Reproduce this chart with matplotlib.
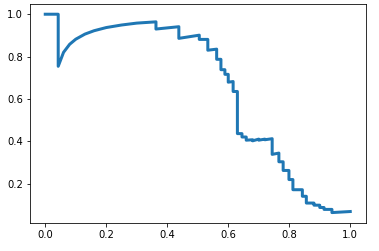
import matplotlib
matplotlib.use("Agg")
import matplotlib.pyplot as plt

# recall / precision vertices
recall = [0.0, 0.0425, 0.0425, 0.06, 0.08, 0.10, 0.13, 0.16, 0.20, 0.25, 0.30, 0.363,
          0.363, 0.438, 0.438, 0.505, 0.505, 0.533, 0.533, 0.562, 0.562, 0.576, 0.576,
          0.589, 0.589, 0.600, 0.600, 0.616, 0.616, 0.630, 0.630, 0.645, 0.645, 0.659,
          0.659, 0.68, 0.68, 0.70, 0.70, 0.72, 0.72, 0.744, 0.744, 0.766, 0.766, 0.780,
          0.780, 0.799, 0.799, 0.812, 0.812, 0.843, 0.843, 0.856, 0.856, 0.881, 0.881,
          0.900, 0.900, 0.914, 0.914, 0.940, 0.940, 1.0]
precision = [1.0, 1.0, 0.754, 0.82, 0.858, 0.882, 0.906, 0.922, 0.937, 0.949, 0.958, 0.964,
             0.930, 0.941, 0.886, 0.901, 0.881, 0.881, 0.830, 0.835, 0.787, 0.787, 0.738,
             0.738, 0.716, 0.716, 0.679, 0.682, 0.635, 0.635, 0.436, 0.436, 0.420, 0.420,
             0.405, 0.407, 0.402, 0.410, 0.405, 0.410, 0.407, 0.412, 0.338, 0.344, 0.303, 0.303,
             0.262, 0.262, 0.219, 0.219, 0.171, 0.171, 0.140, 0.140, 0.108, 0.108, 0.098,
             0.098, 0.087, 0.087, 0.078, 0.078, 0.063, 0.068]

fig = plt.figure(figsize=(379 / 72, 251 / 72), dpi=72)
ax = fig.add_axes([30 / 379, 28.5 / 251, 335.5 / 379, 218.2 / 251])
ax.plot(recall, precision, linewidth=3)
ax.set_xticks([0.0, 0.2, 0.4, 0.6, 0.8, 1.0])
ax.set_yticks([0.2, 0.4, 0.6, 0.8, 1.0])
fig.savefig("out.png", dpi=72)
